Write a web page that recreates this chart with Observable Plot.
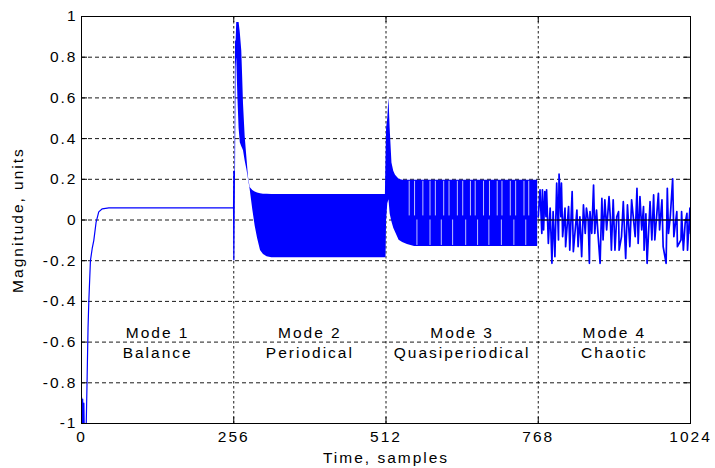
<!DOCTYPE html>
<html>
<head>
<meta charset="utf-8">
<script src="https://cdn.jsdelivr.net/npm/d3@7"></script>
<script src="https://cdn.jsdelivr.net/npm/@observablehq/plot@0.6"></script>
<style>
  html, body { margin: 0; padding: 0; background: #fff; }
  #chart svg { font-family: "Liberation Sans", Arial, sans-serif; }
  #chart svg text { letter-spacing: 2px; }
</style>
</head>
<body>
<div id="chart"></div>
<script>
// ---- axis ticks / labels ----
const xTicks = [0, 256, 512, 768, 1024];
const yTicks = [-1, -0.8, -0.6, -0.4, -0.2, 0, 0.2, 0.4, 0.6, 0.8, 1];
const modeBounds = [0, 256, 512, 768, 1024];
const modeTitles = ["Mode 1", "Mode 2", "Mode 3", "Mode 4"];
const modeNames = ["Balance", "Periodical", "Quasiperiodical", "Chaotic"];
const xLabel = "Time, samples";
const yLabel = "Magnitude, units";

// ---- Mode 1: balance (transient to steady value) ----
const balanceT = [0, 1, 2, 3, 4, 5, 6, 7, 8, 9.5, 11, 12.3, 15, 18, 20.7, 24.6, 29, 35, 46, 256];
const balanceV = [-0.87, -1.05, -0.88, -1.05, -0.9, -1.1, -1.05, -1.1, -1.0, -0.77, -0.53, -0.4, -0.2, -0.14, -0.1, -0.01, 0.04, 0.055, 0.06, 0.06];

// ---- Modes 2 & 3: dense oscillation, read as envelope (upper / lower) ----
const bandT = [255.5, 256, 258, 259, 260, 261, 263, 265, 267, 269.5, 271, 272.4, 275.2, 278, 280.8, 283.6, 288, 292, 296, 301, 306, 312, 320, 511, 512, 513, 515, 517, 519, 522, 525, 528, 531, 534, 540, 548, 560, 767];
const bandUpper = [0.06, 0.24, 0.24, 0.88, 0.88, 0.97, 0.97, 0.97, 0.92, 0.83, 0.7, 0.57, 0.41, 0.31, 0.21, 0.16, 0.145, 0.137, 0.133, 0.129, 0.127, 0.126, 0.125, 0.125, 0.3, 0.45, 0.5, 0.6, 0.45, 0.28, 0.24, 0.22, 0.21, 0.2, 0.195, 0.195, 0.195, 0.195];
const bandLower = [0.06, -0.2, -0.2, 0.24, 0.75, 0.8, 0.6, 0.45, 0.38, 0.36, 0.35, 0.34, 0.29, 0.25, 0.2, 0.15, 0.05, -0.03, -0.09, -0.15, -0.17, -0.18, -0.185, -0.185, -0.185, 0.0, 0.08, 0.1, 0.03, -0.01, -0.04, -0.06, -0.08, -0.1, -0.11, -0.12, -0.13, -0.13];

// Mode 3 quasiperiodic gaps (samples where the trace does not reach the envelope)
const gapUpperT = [551, 560, 574, 586, 595, 609, 618, 632, 641, 654, 662, 676, 686, 699, 707, 721, 730, 744, 752];
const gapUpperRange = [0.02, 0.19];
const gapLowerT = [564, 586, 605, 624, 646, 666, 685, 706, 727, 747];
const gapLowerRange = [-0.125, 0.0];

// ---- Mode 4: chaotic ----
const chaosT = [768, 771, 774, 775, 777, 779, 781, 782, 785, 788, 791, 793, 796, 799, 802, 803, 806, 807, 809, 813, 814, 819, 821, 825, 827, 833, 835, 838, 841, 844, 847, 849, 852, 854, 855, 858, 861, 863, 866, 868, 872, 875, 877, 880, 883, 887, 889, 891, 894, 897, 900, 903, 904, 908, 911, 915, 918, 922, 925, 931, 934, 936, 939, 942, 945, 946, 949, 951, 956, 959, 962, 964, 970, 972, 976, 978, 983, 985, 987, 990, 994, 996, 1001, 1002, 1008, 1009, 1012, 1015, 1018, 1019, 1023, 1024];
const chaosV = [0.016, 0.148, -0.066, 0.148, -0.049, 0.14, 0.016, 0.148, -0.115, 0.058, -0.213, 0.041, -0.18, 0.181, -0.098, 0.225, 0.016, 0.181, -0.082, 0.058, -0.131, 0.066, -0.148, 0.14, -0.156, 0.049, -0.131, 0.016, -0.18, 0.074, -0.066, 0.058, 0.0, -0.213, 0.041, -0.066, 0.172, -0.066, 0.049, -0.05, -0.213, 0.107, -0.098, 0.099, -0.049, 0.115, 0.02, -0.148, 0.099, -0.148, 0.016, 0.041, -0.148, -0.082, 0.09, -0.189, 0.074, -0.131, 0.099, -0.082, 0.156, -0.115, 0.115, -0.049, 0.066, -0.148, 0.03, -0.213, 0.09, -0.098, 0.123, -0.098, 0.131, -0.049, 0.099, -0.131, -0.213, 0.156, -0.066, 0.016, 0.202, -0.082, 0.041, -0.131, -0.098, 0.041, -0.148, -0.016, 0.033, -0.148, 0.058, -0.066];

// ---- tables ----
const balance = balanceT.map((t, i) => ({t, v: balanceV[i]}));
const band = bandT.map((t, i) => ({t, lo: bandLower[i], hi: bandUpper[i]}));
const chaos = chaosT.map((t, i) => ({t, v: chaosV[i]}));
const modes = modeTitles.map((m, i) => ({x: (modeBounds[i] + modeBounds[i + 1]) / 2, title: m, name: modeNames[i]}));

const W = 715, H = 468, mL = 81, mR = 25, mT = 16, mB = 45;
const pw = W - mL - mR, ph = H - mT - mB;
const blue = "#0000ff";
const fmt = d => String(d);

const chart = Plot.plot({
  width: W, height: H,
  marginLeft: mL, marginRight: mR, marginTop: mT, marginBottom: mB,
  x: {domain: [0, 1024]},
  y: {domain: [-1, 1]},
  style: {background: "#fff", color: "#000", fontSize: "15px"},
  marks: [
    Plot.gridY(yTicks.filter(d => Math.abs(d) < 1), {stroke: "#000", strokeOpacity: 0.9, strokeDasharray: "4,3"}),
    Plot.gridX(modeBounds.slice(1, 4), {stroke: "#000", strokeOpacity: 0.9, strokeDasharray: "2.5,2.5"}),
    Plot.areaY(band, {x: "t", y1: "lo", y2: "hi", fill: blue, clip: true}),
    Plot.ruleX(gapUpperT, {x: d => d, y1: gapUpperRange[0], y2: gapUpperRange[1], stroke: "#fff", strokeOpacity: 0.75, strokeWidth: 1}),
    Plot.ruleX(gapLowerT, {x: d => d, y1: gapLowerRange[0], y2: gapLowerRange[1], stroke: "#fff", strokeOpacity: 0.75, strokeWidth: 1}),
    Plot.line(balance, {x: "t", y: "v", stroke: blue, strokeWidth: 1.2, clip: true}),
    Plot.line(chaos, {x: "t", y: "v", stroke: blue, strokeWidth: 1.7, clip: true}),
    Plot.ruleY([0], {x1: modeBounds[3], x2: modeBounds[4], stroke: "#000", strokeWidth: 1}),
    Plot.frame({stroke: "#000"}),
    // inward ticks
    Plot.tickY(yTicks, {y: d => d, stroke: "#000", insetRight: pw - 6}),
    Plot.tickY(yTicks, {y: d => d, stroke: "#000", insetLeft: pw - 6}),
    Plot.tickX(xTicks, {x: d => d, stroke: "#000", insetTop: ph - 6}),
    Plot.tickX(xTicks, {x: d => d, stroke: "#000", insetBottom: ph - 6}),
    Plot.axisY(yTicks, {anchor: "left", tickSize: 0, tickPadding: 4, tickFormat: fmt, label: null, fontSize: 15.5}),
    Plot.axisX(xTicks, {anchor: "bottom", tickSize: 0, tickPadding: 7, tickFormat: fmt, label: null, fontSize: 15.5}),
    // mode annotations
    Plot.text(modes, {x: "x", y: -0.555, text: "title", fontSize: 15.5, fill: "#000"}),
    Plot.text(modes, {x: "x", y: -0.655, text: "name", fontSize: 15.5, fill: "#000"}),
    // axis titles
    Plot.text([xLabel], {frameAnchor: "bottom", dy: 35, textAnchor: "middle", lineAnchor: "middle", text: d => d, fontSize: 15.5, fill: "#000"}),
    Plot.text([yLabel], {frameAnchor: "left", dx: -63, rotate: -90, textAnchor: "middle", lineAnchor: "middle", text: d => d, fontSize: 15.5, fill: "#000"})
  ]
});
document.getElementById("chart").appendChild(chart);
</script>
</body>
</html>
